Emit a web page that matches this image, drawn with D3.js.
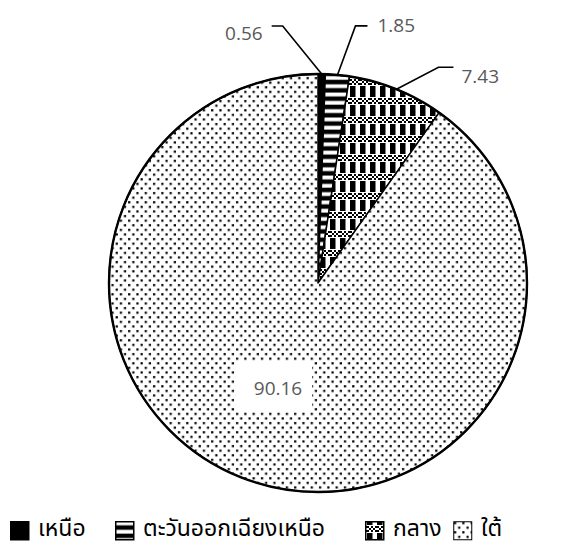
<!DOCTYPE html>
<html>
<head>
<meta charset="utf-8">
<script src="https://cdn.jsdelivr.net/npm/d3@7"></script>
<style>
  html, body { margin: 0; padding: 0; background: #fff; }
  svg { display: block; }
</style>
</head>
<body>
<svg id="chart" width="568" height="547"></svg>
<script>
// Regional shares (%)
const regions = ["เหนือ", "ตะวันออกเฉียงเหนือ", "กลาง", "ใต้"];
const shares = [0.56, 1.85, 7.43, 90.16];
const valueLabels = ["0.56", "1.85", "7.43", "90.16"];
const fills = ["url(#solid)", "url(#hstripe)", "url(#checker)", "url(#dots)"];

const svg = d3.select("#chart");
const cx = 318, cy = 283, R = 209;

// ---- fill patterns ----
const defs = svg.append("defs");

defs.append("pattern").attr("id", "solid")
  .attr("patternUnits", "userSpaceOnUse").attr("width", 4).attr("height", 4)
  .append("rect").attr("width", 4).attr("height", 4).attr("fill", "#000");

const hs = defs.append("pattern").attr("id", "hstripe")
  .attr("patternUnits", "userSpaceOnUse").attr("width", 8).attr("height", 8.3);
hs.append("rect").attr("width", 8).attr("height", 8.3).attr("fill", "#000");
hs.append("rect").attr("y", 0.5).attr("width", 8).attr("height", 3.8).attr("fill", "#fff");

const ck = defs.append("pattern").attr("id", "checker")
  .attr("patternUnits", "userSpaceOnUse").attr("width", 10).attr("height", 19)
  .attr("x", 2).attr("y", 5);
ck.append("rect").attr("width", 10).attr("height", 19).attr("fill", "#fff");
// fine checker band
for (let r = 0; r < 3; r++) {
  for (let c = 0; c < 5; c++) {
    if ((r + c) % 2 === 0) {
      ck.append("rect").attr("x", c * 2).attr("y", r * 2).attr("width", 2).attr("height", 2).attr("fill", "#000");
    }
  }
}
ck.append("rect").attr("x", 0).attr("y", 7).attr("width", 5.5).attr("height", 11).attr("fill", "#000");

const dt = defs.append("pattern").attr("id", "dots")
  .attr("patternUnits", "userSpaceOnUse").attr("width", 8.3).attr("height", 9.2);
dt.append("rect").attr("width", 8.3).attr("height", 9.2).attr("fill", "#fff");
dt.append("rect").attr("x", 1).attr("y", 1).attr("width", 2.2).attr("height", 2.2).attr("fill", "#000");
dt.append("rect").attr("x", 5.15).attr("y", 5.6).attr("width", 2.2).attr("height", 2.2).attr("fill", "#000");

// ---- pie ----
const pie = d3.pie().sort(null).value(d => d).startAngle(0).endAngle(2 * Math.PI);
const arcs = pie(shares);
const arc = d3.arc().innerRadius(0).outerRadius(R);
const rim = d3.arc().innerRadius(R).outerRadius(R);

const g = svg.append("g").attr("transform", `translate(${cx},${cy})`);

g.selectAll("path.slice")
  .data(arcs)
  .join("path")
  .attr("class", "slice")
  .attr("d", arc)
  .attr("fill", (d, i) => fills[i])
  .attr("stroke", "#000")
  .attr("stroke-width", 1.5)
  .attr("stroke-linejoin", "round");

g.append("circle").attr("r", R).attr("fill", "none")
  .attr("stroke", "#000").attr("stroke-width", 2.4);

// ---- leader lines + labels for the small slices ----
const leaders = [
  { i: 0, elbow: [-39, -48], run: -11, anchor: "end", tdx: -9, tdy: 14 },
  { i: 1, elbow: [18, -49], run: 12, anchor: "start", tdx: 10, tdy: 6 },
  { i: 2, elbow: [42, -22], run: 15, anchor: "start", tdx: 8, tdy: 16 }
];

const labelFont = "'Open Sans', 'Liberation Sans', sans-serif";

leaders.forEach(L => {
  const [px, py] = rim.centroid(arcs[L.i]);
  const ex = px + L.elbow[0], ey = py + L.elbow[1];
  const hx = ex + L.run;
  g.append("polyline")
    .attr("points", `${px},${py} ${ex},${ey} ${hx},${ey}`)
    .attr("fill", "none").attr("stroke", "#000").attr("stroke-width", 1.6);
  g.append("text")
    .attr("x", hx + L.tdx).attr("y", ey + L.tdy)
    .attr("text-anchor", L.anchor)
    .attr("font-family", labelFont).attr("font-size", 19)
    .attr("fill", "#595959")
    .text(valueLabels[L.i]);
});

// label inside the largest slice, on a white box
const big = g.append("g").attr("transform", "translate(-44,103)");
big.append("rect").attr("x", -38).attr("y", -25).attr("width", 76).attr("height", 51).attr("fill", "#fff");
big.append("text").attr("x", 4).attr("y", 9)
  .attr("text-anchor", "middle")
  .attr("font-family", labelFont).attr("font-size", 19)
  .attr("fill", "#595959")
  .text(valueLabels[3]);

// ---- legend ----
const legendFont = "'Noto Sans Thai', 'Noto Sans', 'Loma', 'Garuda', sans-serif";
const legendX = [10, 115, 365, 453];
const legY = 521, box = 18;
const leg = svg.append("g");
regions.forEach((name, i) => {
  const gi = leg.append("g").attr("transform", `translate(${legendX[i]},${legY})`);
  gi.append("rect").attr("x", 0.75).attr("y", 0.75).attr("width", box).attr("height", box)
    .attr("fill", fills[i]).attr("stroke", "#000").attr("stroke-width", i === 3 ? 1 : 1.5);
  gi.append("text").attr("x", box + 10).attr("y", box - 3)
    .attr("font-family", legendFont).attr("font-size", 23)
    .attr("fill", "#000")
    .text(name);
});
</script>
</body>
</html>
